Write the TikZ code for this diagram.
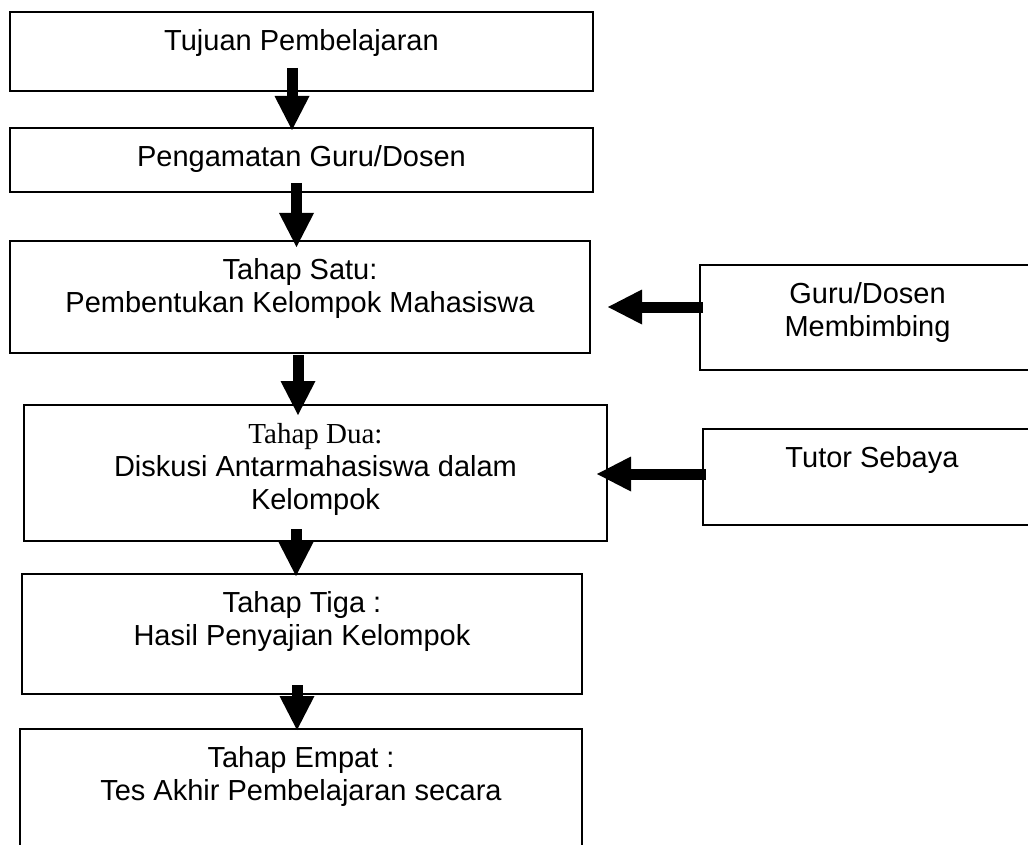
\documentclass[tikz,border=0pt]{standalone}
\usepackage{fontspec}
\setmainfont{Liberation Sans}
\newfontfamily\timesfont{Liberation Serif}
\usetikzlibrary{arrows.meta, positioning}

\begin{document}
\begin{tikzpicture}[x=1pt, y=-1pt,
    box/.style={rectangle, draw, line width=2pt, inner sep=0pt, outer sep=0pt},
    txt/.style={inner sep=0pt, align=center, font=\fontsize{29}{33}\selectfont},
    blockarrow/.style={line width=11pt, -{Triangle[length=34pt, width=35pt, line width=0pt]}}
]
    \useasboundingbox (0,0) rectangle (1028,845);

    % Boxes
    \node[box, minimum width=583pt, minimum height=79pt] (tujuan) at (301.5, 51.5) {};
    \node[box, minimum width=583pt, minimum height=64pt] (amat) at (301.5, 160) {};
    \node[box, minimum width=580pt, minimum height=112pt] (satu) at (300, 297) {};
    \node[box, minimum width=335pt, minimum height=105pt] (guru) at (867.5, 317.5) {};
    \node[box, minimum width=583pt, minimum height=136pt] (dua) at (315.5, 473) {};
    \node[box, minimum width=332pt, minimum height=96pt] (tutor) at (869, 477) {};
    \node[box, minimum width=560pt, minimum height=120pt] (tiga) at (302, 634) {};
    \node[box, minimum width=562pt, minimum height=126pt] (empat) at (301, 792) {};

    % Texts
    \node[txt, below=17pt of tujuan.north] (tujuanT) {Tujuan Pembelajaran};
    \node[txt, below=17pt of amat.north] (amatT) {Pengamatan Guru/Dosen};
    \node[txt, below=17pt of satu.north] (satuT) {Tahap Satu:\\Pembentukan Kelompok Mahasiswa};
    \node[txt, below=17pt of guru.north] (guruT) {Guru/Dosen\\Membimbing};
    \node[txt, below=18pt of dua.north] (duaT) {{\timesfont Tahap Dua:}\\Diskusi Antarmahasiswa dalam\\Kelompok};
    \node[txt, below=17pt of tutor.north, xshift=3pt] (tutorT) {Tutor Sebaya};
    \node[txt, below=17pt of tiga.north] (tigaT) {Tahap Tiga :\\Hasil Penyajian Kelompok};
    \node[txt, below=17pt of empat.north] (empatT) {Tahap Empat :\\Tes Akhir Pembelajaran secara};

    % Arrows
    \draw[blockarrow] ([xshift=-9.5pt, yshift=23pt]tujuan.south) -- ([xshift=-9.5pt, yshift=-2pt]amat.north);
    \draw[blockarrow] ([xshift=-5pt, yshift=9pt]amat.south) -- ([xshift=-3.5pt, yshift=-6pt]satu.north);
    \draw[blockarrow] ([xshift=-2pt, yshift=-2pt]satu.south) -- ([xshift=-17.5pt, yshift=-10pt]dua.north);
    \draw[blockarrow] ([xshift=-19.5pt, yshift=12pt]dua.south) -- ([xshift=-6pt, yshift=-2pt]tiga.north);
    \draw[blockarrow] ([xshift=-5pt, yshift=9pt]tiga.south) -- ([xshift=-4pt, yshift=-1pt]empat.north);
    \draw[blockarrow] ([xshift=3pt, yshift=10.5pt]guru.west) -- ([xshift=18pt, yshift=-10pt]satu.east);
    \draw[blockarrow] ([xshift=3pt, yshift=3pt]tutor.west) -- ([xshift=-10pt, yshift=-1pt]dua.east);
\end{tikzpicture}
\end{document}
